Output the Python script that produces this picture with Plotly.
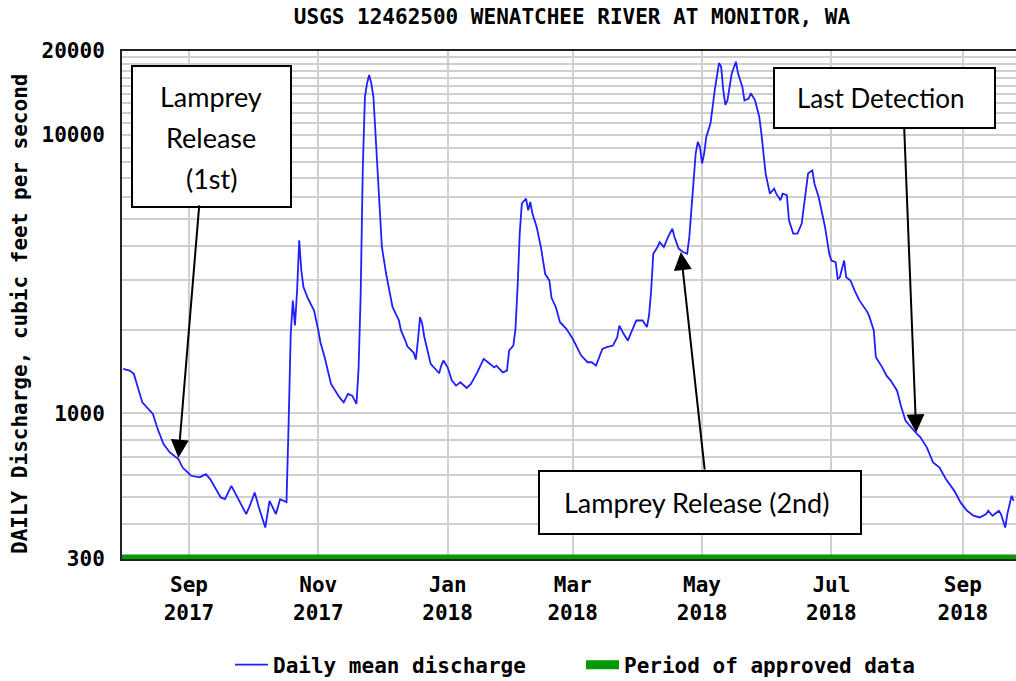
import numpy as np
import plotly.graph_objects as go

# ---------------- data ----------------
dates = [
    "2017-08-01", "2017-08-04", "2017-08-06", "2017-08-10", "2017-08-15", "2017-08-17",
    "2017-08-20", "2017-08-23", "2017-08-27", "2017-08-29", "2017-09-02", "2017-09-06",
    "2017-09-09", "2017-09-11", "2017-09-16", "2017-09-18", "2017-09-21", "2017-09-24",
    "2017-09-28", "2017-09-30", "2017-10-02", "2017-10-04", "2017-10-07", "2017-10-09",
    "2017-10-12", "2017-10-14", "2017-10-17", "2017-10-18", "2017-10-19", "2017-10-20",
    "2017-10-21", "2017-10-22", "2017-10-23", "2017-10-24", "2017-10-25", "2017-10-27",
    "2017-10-30", "2017-11-01", "2017-11-02", "2017-11-04", "2017-11-07", "2017-11-11",
    "2017-11-13", "2017-11-15", "2017-11-17", "2017-11-19", "2017-11-20", "2017-11-21",
    "2017-11-22", "2017-11-23", "2017-11-24", "2017-11-25", "2017-11-26", "2017-11-27",
    "2017-11-28", "2017-11-29", "2017-11-30", "2017-12-01", "2017-12-03", "2017-12-05",
    "2017-12-06", "2017-12-09", "2017-12-10", "2017-12-12", "2017-12-13", "2017-12-16",
    "2017-12-17", "2017-12-18", "2017-12-19", "2017-12-20", "2017-12-21", "2017-12-24",
    "2017-12-26", "2017-12-28", "2017-12-29", "2017-12-30", "2018-01-01", "2018-01-03",
    "2018-01-05", "2018-01-07", "2018-01-10", "2018-01-12", "2018-01-15", "2018-01-18",
    "2018-01-20", "2018-01-23", "2018-01-24", "2018-01-27", "2018-01-29", "2018-01-30",
    "2018-02-01", "2018-02-02", "2018-02-03", "2018-02-04", "2018-02-05", "2018-02-07",
    "2018-02-08", "2018-02-09", "2018-02-10", "2018-02-12", "2018-02-14", "2018-02-16",
    "2018-02-18", "2018-02-19", "2018-02-21", "2018-02-23", "2018-02-26", "2018-03-01",
    "2018-03-03", "2018-03-05", "2018-03-08", "2018-03-10", "2018-03-12", "2018-03-13",
    "2018-03-15", "2018-03-17", "2018-03-20", "2018-03-22", "2018-03-23", "2018-03-25",
    "2018-03-27", "2018-03-29", "2018-03-31", "2018-04-03", "2018-04-05", "2018-04-06",
    "2018-04-07", "2018-04-08", "2018-04-10", "2018-04-11", "2018-04-13", "2018-04-15",
    "2018-04-17", "2018-04-18", "2018-04-20", "2018-04-22", "2018-04-24", "2018-04-25",
    "2018-04-26", "2018-04-27", "2018-04-28", "2018-04-29", "2018-04-30", "2018-05-01",
    "2018-05-02", "2018-05-03", "2018-05-05", "2018-05-06", "2018-05-07", "2018-05-09",
    "2018-05-10", "2018-05-11", "2018-05-12", "2018-05-13", "2018-05-15", "2018-05-17",
    "2018-05-18", "2018-05-20", "2018-05-21", "2018-05-23", "2018-05-24", "2018-05-26",
    "2018-05-28", "2018-05-29", "2018-05-30", "2018-05-31", "2018-06-02", "2018-06-04",
    "2018-06-05", "2018-06-07", "2018-06-08", "2018-06-10", "2018-06-11", "2018-06-13",
    "2018-06-15", "2018-06-17", "2018-06-19", "2018-06-20", "2018-06-22", "2018-06-23",
    "2018-06-25", "2018-06-26", "2018-06-28", "2018-06-30", "2018-07-01", "2018-07-03",
    "2018-07-04", "2018-07-05", "2018-07-07", "2018-07-08", "2018-07-10", "2018-07-12",
    "2018-07-14", "2018-07-18", "2018-07-19", "2018-07-21", "2018-07-22", "2018-07-25",
    "2018-07-27", "2018-07-29", "2018-08-01", "2018-08-03", "2018-08-05", "2018-08-09",
    "2018-08-12", "2018-08-15", "2018-08-18", "2018-08-21", "2018-08-24", "2018-08-28",
    "2018-08-31", "2018-09-03", "2018-09-06", "2018-09-09", "2018-09-12", "2018-09-13",
    "2018-09-15", "2018-09-18", "2018-09-19", "2018-09-21", "2018-09-22", "2018-09-24",
    "2018-09-25",
]
discharge = [
    1444, 1424, 1386, 1095, 995, 890,
    776, 724, 685, 639, 597, 589,
    605, 581, 499, 492, 549, 499,
    435, 472, 520, 459, 389, 485,
    435, 492, 480, 916, 1930, 2540,
    2070, 2760, 4180, 3260, 2840, 2600,
    2340, 1985, 1800, 1590, 1276, 1141,
    1095, 1174, 1158, 1081, 1444, 2690,
    7670, 13700, 15300, 16400, 15300, 13700,
    9840, 7460, 5210, 3950, 3170, 2600,
    2410, 2160, 1985, 1830, 1740, 1650,
    1560, 1830, 2215, 2100, 1880, 1505,
    1444, 1393, 1484, 1547, 1463, 1311,
    1258, 1293, 1234, 1276, 1404, 1569,
    1526, 1463, 1484, 1404, 1424, 1681,
    1752, 2012, 2840, 4420, 5670, 5900,
    5360, 5740, 5215, 4670, 3955, 3170,
    3000, 2600, 2410, 2125, 2012, 1852,
    1728, 1613, 1526, 1526, 1484, 1547,
    1705, 1728, 1752, 1877, 2067, 1930,
    1826, 1985, 2155, 2155, 2040, 2246,
    2760, 3740, 3955, 4120, 3955, 4300,
    4600, 4300, 3900, 3795, 3740, 4300,
    5360, 6690, 8570, 9440, 9055, 7890,
    8570, 9830, 11000, 12600, 14500, 18100,
    17600, 14500, 12800, 13300, 16600, 18300,
    16600, 14900, 13300, 13500, 14100, 13300,
    11600, 10100, 8330, 7260, 6150, 6410,
    6150, 5820, 6150, 6070, 4930, 4420,
    4420, 4800, 6320, 7260, 7460, 6690,
    5980, 5510, 4670, 3740, 3540, 3490,
    3040, 3080, 3540, 3080, 3000, 2760,
    2560, 2310, 2215, 1985, 1590, 1463,
    1366, 1311, 1206, 1051, 941, 866,
    820, 755, 666, 639, 581, 527,
    478, 447, 429, 423, 435, 447,
    429, 447, 435, 389, 435, 506,
    485,
]

approved_dates = ["2017-07-31", "2018-09-30"]
approved_level = [300, 300]

x_tick_dates = ["2017-09-01", "2017-11-01", "2018-01-01", "2018-03-01",
                "2018-05-01", "2018-07-01", "2018-09-01"]
x_tick_text = ["Sep<br>2017", "Nov<br>2017", "Jan<br>2018", "Mar<br>2018",
               "May<br>2018", "Jul<br>2018", "Sep<br>2018"]

y_grid_values = [300, 400, 500, 600, 700, 800, 900, 1000,
                 2000, 3000, 4000, 5000, 6000, 7000, 8000, 9000, 10000,
                 11000, 12000, 13000, 14000, 15000, 16000, 17000, 18000, 19000, 20000]
y_labelled = {300: "300", 1000: "1000", 10000: "10000", 20000: "20000"}

# annotated events (date, discharge at arrow tip)
release_1st = ("2017-08-27", 693)
release_2nd = ("2018-04-21", 3795)
last_detection = ("2018-08-10", 854)

# ---------------- figure ----------------
MONO = "DejaVu Sans Mono"
TXT = "Lato"
FS = 21

fig = go.Figure()
fig.add_trace(go.Scatter(
    x=approved_dates, y=approved_level, mode="lines",
    line=dict(color="#009900", width=9),
    name="Period of approved data",
))
fig.add_trace(go.Scatter(
    x=dates, y=discharge, mode="lines",
    line=dict(color="#1f1fff", width=1.8),
    name="Daily mean discharge",
))

W, H = 1016, 681
L, R, T, B = 122, 0, 51, 122
pw, ph = W - L - R, H - T - B


def px_x(px):
    return (px - L) / pw


def px_y(py):
    return (H - B - py) / ph


shapes = []
annotations = []


def box(x0, y0, x1, y1):
    shapes.append(dict(type="rect", xref="paper", yref="paper",
                       x0=px_x(x0), x1=px_x(x1), y0=px_y(y1), y1=px_y(y0),
                       line=dict(color="black", width=2), fillcolor="white",
                       layer="above"))


def label(text, cx, cy, size):
    annotations.append(dict(text=text, xref="paper", yref="paper",
                            x=px_x(cx), y=px_y(cy), showarrow=False,
                            xanchor="center", yanchor="middle",
                            font=dict(family=TXT, size=size, color="black")))


def arrow(event, ax, ay):
    annotations.append(dict(text="", x=event[0], y=np.log10(event[1]),
                            xref="x", yref="y", showarrow=True,
                            arrowhead=2, arrowsize=1.8, arrowwidth=2,
                            arrowcolor="black", ax=ax, ay=ay, standoff=0))


# Box 1: Lamprey Release (1st)
box(132, 66, 291, 207)
label("Lamprey", 211, 97, 27)
label("Release", 211, 137, 27)
label("(1st)", 211, 178, 27)
arrow(release_1st, 21, -254)

# Box 2: Last Detection
box(774, 68, 995, 128)
label("Last Detection", 880, 98, 26)
arrow(last_detection, -12, -305)

# Box 3: Lamprey Release (2nd)
box(539, 471, 861, 534)
label("Lamprey Release (2nd)", 696, 502, 27)
arrow(release_2nd, 24, 219)

# y-axis title
annotations.append(dict(text="DAILY Discharge, cubic feet per second",
                        xref="paper", yref="paper", x=px_x(20), y=px_y(314),
                        textangle=-90, showarrow=False, xanchor="center",
                        yanchor="middle",
                        font=dict(family=MONO, size=FS, color="black", weight="bold")))

fig.update_layout(
    width=W, height=H,
    margin=dict(l=L, r=R, t=T, b=B, pad=0, autoexpand=False),
    paper_bgcolor="white", plot_bgcolor="white",
    title=dict(text="USGS 12462500 WENATCHEE RIVER AT MONITOR, WA",
               x=572 / W, xanchor="center", y=1 - 17 / H, yanchor="middle",
               font=dict(family=MONO, size=FS, color="black", weight="bold")),
    xaxis=dict(
        type="date",
        range=["2017-07-31 10:00", "2018-09-26 02:00"],
        tickvals=x_tick_dates, ticktext=x_tick_text,
        showgrid=True, gridcolor="#cfcfcf", gridwidth=1.5,
        showline=True, linecolor="#222222", linewidth=2, mirror=True,
        ticks="", ticklabelstandoff=6,
        tickfont=dict(family=MONO, size=FS, color="black", weight="bold"),
        zeroline=False, automargin=False,
    ),
    yaxis=dict(
        type="log",
        range=[np.log10(300), np.log10(20000)],
        tickvals=y_grid_values,
        ticktext=[y_labelled.get(v, "") for v in y_grid_values],
        showgrid=True, gridcolor="#cfcfcf", gridwidth=1.5,
        showline=True, linecolor="#222222", linewidth=2, mirror=False,
        ticks="", ticklabelstandoff=11,
        tickfont=dict(family=MONO, size=FS, color="black", weight="bold"),
        zeroline=False, automargin=False,
    ),
    legend=dict(
        orientation="h", x=px_x(230), xanchor="left",
        y=px_y(665), yanchor="middle", traceorder="reversed",
        font=dict(family=MONO, size=FS, color="black", weight="bold"),
        itemwidth=33, entrywidth=303, entrywidthmode="pixels",
        bgcolor="rgba(0,0,0,0)",
    ),
    shapes=shapes,
    annotations=annotations,
    showlegend=True,
)

fig.write_html("out.html", config={"displayModeBar": False},
               post_script="document.body.style.margin='0';document.body.style.padding='0';")
